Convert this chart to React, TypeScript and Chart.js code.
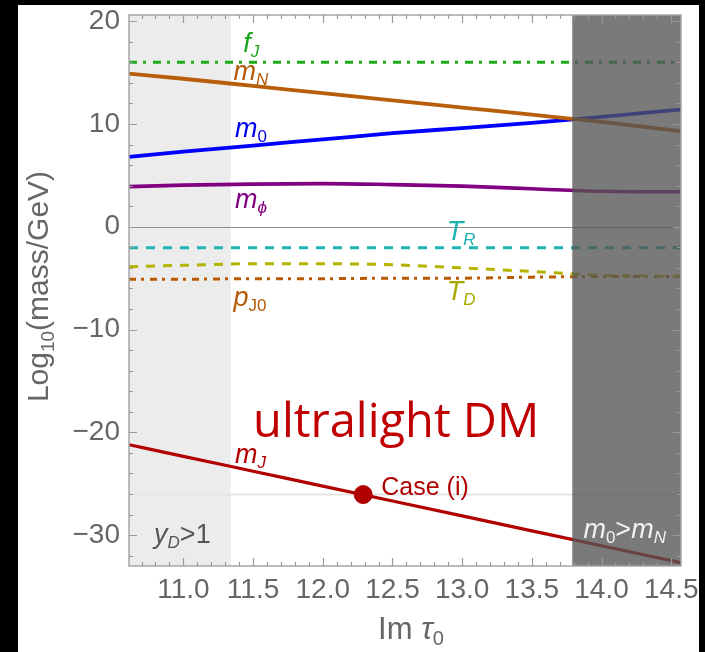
import React, { useEffect, useRef } from "react";
import { Chart, registerables } from "chart.js";

Chart.register(...registerables);

// Im tau_0 sample points
const tauGrid = [10.61, 11.0, 11.5, 12.0, 12.5, 13.0, 13.5, 14.0, 14.57];

// log10(mass / GeV) for each quantity
const fJ = [16.0, 16.0, 16.0, 16.0, 16.0, 16.0, 16.0, 16.0, 16.0];
const mN = [14.9, 14.4, 13.7, 13.0, 12.3, 11.6, 10.9, 10.2, 9.3];
const m0 = [6.8, 7.3, 7.9, 8.5, 9.1, 9.6, 10.1, 10.7, 11.4];
const mPhi = [3.9, 4.05, 4.15, 4.2, 4.1, 3.95, 3.7, 3.45, 3.4];
const TR = [-2.05, -2.05, -2.05, -2.05, -2.05, -2.05, -2.05, -2.05, -2.05];
const TD = [-3.9, -3.75, -3.6, -3.6, -3.7, -4.0, -4.35, -4.7, -4.8];
const pJ0 = [-5.1, -5.1, -5.05, -5.05, -5.0, -5.0, -4.9, -4.85, -4.85];
const mJ = [-21.2, -22.33, -23.78, -25.23, -26.68, -28.13, -29.58, -31.03, -32.68];

// benchmark point
const caseX = 12.29;
const caseY = -26.05;

// excluded regions
const yDLimit = 11.34; // y_D > 1 to the left
const crossing = 13.79; // m0 > mN to the right

// axes
const xMin = 10.61;
const xMax = 14.57;
const yMin = -33;
const yMax = 20.6;
const xTicks = [11.0, 11.5, 12.0, 12.5, 13.0, 13.5, 14.0, 14.5];
const yTicks = [-30, -20, -10, 0, 10, 20];

const FAMILY = '"Liberation Sans", Arial, sans-serif';

type Part = { t: string; size: number; italic?: boolean; dy?: number; family?: string };
type Label = { x: number; y: number; color: string; parts: Part[] };

const sub = (t: string, italic = true): Part => ({ t, size: 17, italic, dy: 5 });
const main = (t: string, italic = true): Part => ({ t, size: 27, italic });

const curveLabels: Label[] = [
  { x: 11.43, y: 16.97, color: "#1aa51a", parts: [main("f"), sub("J")] },
  { x: 11.36, y: 14.25, color: "#b35a08", parts: [main("m"), sub("N")] },
  { x: 11.37, y: 8.7, color: "#0000f0", parts: [main("m"), sub("0", false)] },
  { x: 11.37, y: 1.8, color: "#800080", parts: [main("m"), sub("\u03d5")] },
  { x: 12.89, y: -1.3, color: "#1fb0b0", parts: [main("T"), sub("R")] },
  { x: 12.89, y: -7.15, color: "#a8a800", parts: [main("T"), sub("D")] },
  { x: 11.36, y: -7.73, color: "#b35a08", parts: [main("p"), sub("J0", false)] },
  { x: 11.37, y: -23.0, color: "#b00000", parts: [main("m"), sub("J")] },
  { x: 10.79, y: -30.8, color: "#555555", parts: [main("y"), sub("D"), main(">1", false)] },
  {
    x: 13.87,
    y: -30.3,
    color: "#f2f2f2",
    parts: [main("m"), sub("0", false), main(">", false), main("m"), sub("N")],
  },
  { x: 12.42, y: -26.1, color: "#b00000", parts: [{ t: "Case (i)", size: 25 }] },
  {
    x: 11.5,
    y: -20.48,
    color: "#c00000",
    parts: [{ t: "ultralight DM", size: 47, family: '"Open Sans", sans-serif' }],
  },
];

function partsWidth(ctx: CanvasRenderingContext2D, parts: Part[]) {
  let w = 0;
  for (const p of parts) {
    ctx.font = `${p.italic ? "italic " : ""}${p.size}px ${p.family || FAMILY}`;
    w += ctx.measureText(p.t).width;
  }
  return w;
}

function drawParts(ctx: CanvasRenderingContext2D, x: number, y: number, parts: Part[], color: string) {
  let cx = x;
  ctx.fillStyle = color;
  ctx.textAlign = "left";
  ctx.textBaseline = "alphabetic";
  for (const p of parts) {
    ctx.font = `${p.italic ? "italic " : ""}${p.size}px ${p.family || FAMILY}`;
    ctx.fillText(p.t, cx, y + (p.dy || 0));
    cx += ctx.measureText(p.t).width;
  }
}

const decorations = {
  id: "decorations",
  beforeDatasetsDraw(chart: any) {
    const { ctx, chartArea: a, scales } = chart;
    const x = scales.x;
    const y = scales.y;
    ctx.save();
    // y_D > 1 band
    ctx.fillStyle = "#ececec";
    const xr = x.getPixelForValue(yDLimit);
    ctx.fillRect(a.left, a.top, xr - a.left, a.bottom - a.top);
    // faint guide through the benchmark point
    ctx.strokeStyle = "#e4e4e4";
    ctx.lineWidth = 2;
    const yc = y.getPixelForValue(caseY);
    ctx.beginPath();
    ctx.moveTo(a.left, yc);
    ctx.lineTo(a.right, yc);
    ctx.stroke();
    // zero line
    ctx.strokeStyle = "#8c8c8c";
    ctx.lineWidth = 1.2;
    const y0 = Math.round(y.getPixelForValue(0)) + 0.5;
    ctx.beginPath();
    ctx.moveTo(a.left, y0);
    ctx.lineTo(a.right, y0);
    ctx.stroke();
    ctx.restore();
  },
  afterDatasetsDraw(chart: any) {
    const { ctx, chartArea: a, scales } = chart;
    const x = scales.x;
    const y = scales.y;
    ctx.save();
    // m0 > mN shading over the curves
    const xl = x.getPixelForValue(crossing);
    ctx.fillStyle = "rgba(85,85,85,0.78)";
    ctx.fillRect(xl, a.top, a.right - xl, a.bottom - a.top);

    // frame
    ctx.strokeStyle = "#a6a6a6";
    ctx.lineWidth = 1.5;
    ctx.strokeRect(a.left, a.top, a.right - a.left, a.bottom - a.top);

    // inward ticks on all four sides
    ctx.strokeStyle = "#9a9a9a";
    ctx.lineWidth = 1.2;
    ctx.beginPath();
    for (let i = 0; i <= 40; i++) {
      const v = 10.6 + i * 0.1;
      if (v < xMin - 1e-6 || v > xMax + 1e-6) continue;
      const major = Math.abs(v * 2 - Math.round(v * 2)) < 1e-6;
      const len = major ? 8 : 4;
      const px = Math.round(x.getPixelForValue(v)) + 0.5;
      ctx.moveTo(px, a.bottom);
      ctx.lineTo(px, a.bottom - len);
      ctx.moveTo(px, a.top);
      ctx.lineTo(px, a.top + len);
    }
    for (let v = -32; v <= 20; v += 2) {
      const major = v % 10 === 0;
      const len = major ? 8 : 4;
      const py = Math.round(y.getPixelForValue(v)) + 0.5;
      ctx.moveTo(a.left, py);
      ctx.lineTo(a.left + len, py);
      ctx.moveTo(a.right, py);
      ctx.lineTo(a.right - len, py);
    }
    ctx.stroke();

    // curve and region labels
    for (const l of curveLabels) {
      drawParts(ctx, x.getPixelForValue(l.x), y.getPixelForValue(l.y), l.parts, l.color);
    }

    // axis titles
    const titleColor = "#666666";
    const yTitle: Part[] = [
      { t: "Log", size: 30 },
      { t: "10", size: 19, dy: 6 },
      { t: "(mass/GeV)", size: 30 },
    ];
    const wy = partsWidth(ctx, yTitle);
    ctx.translate(30, (a.top + a.bottom) / 2 - 4);
    ctx.rotate(-Math.PI / 2);
    drawParts(ctx, -wy / 2, 0, yTitle, titleColor);
    ctx.setTransform(1, 0, 0, 1, 0, 0);

    const xTitle: Part[] = [
      { t: "Im ", size: 31 },
      { t: "\u03c4", size: 31, italic: true },
      { t: "0", size: 20, dy: 6 },
    ];
    const wx = partsWidth(ctx, xTitle);
    drawParts(ctx, (a.left + a.right) / 2 - wx / 2 + 6, 634, xTitle, titleColor);
    ctx.restore();
  },
};

const pts = (ys: number[]) => tauGrid.map((t, i) => ({ x: t, y: ys[i] }));

export default function App() {
  const canvasRef = useRef<HTMLCanvasElement | null>(null);

  useEffect(() => {
    const canvas = canvasRef.current;
    if (!canvas) return;
    const line = (data: number[], color: string, width: number, dash: number[] = []) => ({
      data: pts(data),
      borderColor: color,
      backgroundColor: color,
      borderWidth: width,
      borderDash: dash,
      pointRadius: 0,
      fill: false,
      cubicInterpolationMode: "monotone" as const,
    });
    const chart = new Chart(canvas, {
      type: "line",
      data: {
        datasets: [
          {
            type: "scatter" as any,
            data: [{ x: caseX, y: caseY }],
            pointRadius: 9,
            pointBackgroundColor: "#b00000",
            pointBorderColor: "#b00000",
            showLine: false,
          } as any,
          line(fJ, "#1aaa1a", 3, [8, 6, 3, 7]),
          line(mN, "#b85e0a", 3.8),
          line(m0, "#0000ff", 3.8),
          line(mPhi, "#800080", 3.6),
          line(TR, "#1fb3b3", 3, [9, 8]),
          line(TD, "#b3b300", 3, [9, 8]),
          line(pJ0, "#b85a00", 3, [7, 5, 3, 6]),
          line(mJ, "#b00000", 3.2),
        ],
      },
      options: {
        responsive: false,
        devicePixelRatio: 1,
        animation: false,
        events: [],
        layout: { padding: { top: 10, right: 18, left: 0, bottom: 0 } },
        plugins: { legend: { display: false }, tooltip: { enabled: false } },
        scales: {
          x: {
            type: "linear",
            min: xMin,
            max: xMax,
            grid: { display: false, drawTicks: false },
            border: { display: false },
            afterBuildTicks: (s: any) => {
              s.ticks = xTicks.map((v) => ({ value: v }));
            },
            afterFit: (s: any) => {
              s.height = 86;
              s.paddingLeft = 0;
              s.paddingRight = 0;
            },
            ticks: {
              padding: 7,
              maxRotation: 0,
              autoSkip: false,
              color: "#666666",
              font: { family: FAMILY, size: 28 },
              callback: (v: any) => Number(v).toFixed(1),
            },
          },
          y: {
            type: "linear",
            min: yMin,
            max: yMax,
            grid: { display: false, drawTicks: false },
            border: { display: false },
            afterBuildTicks: (s: any) => {
              s.ticks = yTicks.map((v) => ({ value: v }));
            },
            afterFit: (s: any) => {
              s.width = 111;
              s.paddingTop = 0;
              s.paddingBottom = 0;
            },
            ticks: {
              padding: 9,
              autoSkip: false,
              color: "#666666",
              font: { family: FAMILY, size: 28 },
              callback: (v: any) => (Number(v) < 0 ? "\u2212" + Math.abs(Number(v)) : String(v)),
            },
          },
        },
      },
      plugins: [decorations],
    });
    return () => chart.destroy();
  }, []);

  return (
    <div style={{ position: "fixed", left: 0, top: 0, width: 705, height: 652, background: "#000" }}>
      <div style={{ position: "absolute", left: 18, top: 5, width: 681, height: 647, background: "#fff" }}>
        <canvas ref={canvasRef} width={681} height={647} style={{ display: "block" }} />
      </div>
    </div>
  );
}
